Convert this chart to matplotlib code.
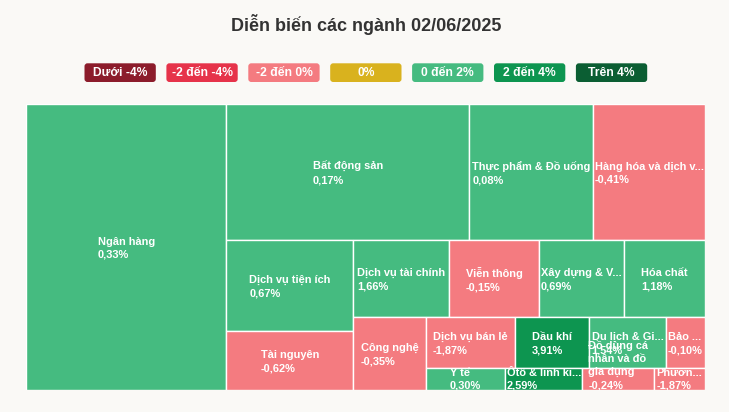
import math
import matplotlib
matplotlib.use("Agg")
import matplotlib.pyplot as plt
from matplotlib.patches import Rectangle, FancyBboxPatch

# ---------------- data ----------------
title = "Diễn biến các ngành 02/06/2025"

sectors = ["Ngân hàng", "Bất động sản", "Thực phẩm & Đồ uống",
           "Hàng hóa và dịch vụ công nghiệp", "Dịch vụ tiện ích", "Tài nguyên",
           "Dịch vụ tài chính", "Viễn thông", "Xây dựng & Vật liệu", "Hóa chất",
           "Công nghệ", "Dịch vụ bán lẻ", "Dầu khí", "Du lịch & Giải trí",
           "Bảo hiểm", "Y tế", "Ôtô & linh kiện",
           "Đồ dùng cá nhân và đồ gia dụng", "Phương tiện truyền thông"]

display_labels = ["Ngân hàng", "Bất động sản", "Thực phẩm & Đồ uống",
                  "Hàng hóa và dịch v...", "Dịch vụ tiện ích", "Tài nguyên",
                  "Dịch vụ tài chính", "Viễn thông", "Xây dựng & V...", "Hóa chất",
                  "Công nghệ", "Dịch vụ bán lẻ", "Dầu khí", "Du lịch & Gi...",
                  "Bảo ...", "Y tế", "Ôtô & linh ki...",
                  "Đồ dùng cá\nnhân và đồ\ngia dụng", "Phươn..."]

changes = [0.33, 0.17, 0.08, -0.41, 0.67, -0.62, 1.66, -0.15, 0.69, 1.18,
           -0.35, -1.87, 3.91, 1.54, -0.10, 0.30, 2.59, -0.24, -1.87]

weights = [5729, 3305, 1686, 1519, 1156, 749, 737, 700, 652, 629,
           526, 448, 373, 384, 197, 179, 173, 162, 114]

legend_labels = ["Dưới -4%", "-2 đến -4%", "-2 đến 0%", "0%",
                 "0 đến 2%", "2 đến 4%", "Trên 4%"]
legend_colors = ["#8c1c2b", "#e6334a", "#f47b80", "#d9b21e",
                 "#45bb80", "#0d9550", "#0b5e33"]

BG = "#faf9f6"


def color_for(v):
    if v < -4:
        return legend_colors[0]
    if v < -2:
        return legend_colors[1]
    if v < 0:
        return legend_colors[2]
    if v == 0:
        return legend_colors[3]
    if v < 2:
        return legend_colors[4]
    if v < 4:
        return legend_colors[5]
    return legend_colors[6]


# ------------- squarified (alternating direction) layout -------------
def _ratio(w, h):
    try:
        r = max(w / h, h / w)
    except (ZeroDivisionError, TypeError):
        return float("nan")
    return r


class _Group:
    def __init__(self, h, w, d):
        self.height, self.width, self.direction = h, w, d
        self.total = 0.0
        self.nW = self.lW = self.nH = self.lH = 0.0
        self.el = []
        self.lR = self.nR = float("nan")

    def add(self, a):
        last = self.el[-1] if self.el else float("nan")
        self.total += a
        if self.direction == 0:
            self.lW = self.nW
            lH = last / self.lW if self.lW else float("nan")
            self.lR = _ratio(self.lW, lH)
            self.nW = self.total / self.height
            nH = last / self.nW
            self.nR = _ratio(self.nW, nH)
        else:
            self.lH = self.nH
            lW = last / self.lH if self.lH else float("nan")
            self.lR = _ratio(lW, self.lH)
            self.nH = self.total / self.width
            nW = last / self.nH
            self.nR = _ratio(nW, self.nH)
        self.el.append(a)

    def reset(self):
        self.nW = self.lW = 0.0
        self.el = []
        self.total = 0.0


def treemap_layout(values, W, H):
    tot = float(sum(values))
    out = []
    plot = [0.0, 0.0]
    g = _Group(H, W, 0)

    def calc(last):
        if last:
            gW, gH = g.nW, g.nH
            keep = None
        else:
            gW, gH = g.lW, g.lH
            keep = g.el[-1]
        end = len(g.el) - 1
        for i, p in enumerate(g.el):
            if last or i < end:
                if g.direction == 0:
                    w = gW
                    h = p / w
                    out.append((plot[0], plot[1], w, h))
                    plot[1] += h
                else:
                    h = gH
                    w = p / h
                    out.append((plot[0], plot[1], w, h))
                    plot[0] += w
        g.reset()
        if g.direction == 0:
            g.width -= gW
        else:
            g.height -= gH
        plot[1] = H - g.height
        plot[0] = W - g.width
        g.direction = 1 - g.direction
        if not last:
            g.add(keep)

    n = len(values)
    for i, v in enumerate(values):
        g.add(W * H * v / tot)
        if g.nR > g.lR:
            calc(False)
        if i == n - 1:
            calc(True)
    return out


# ---------------- figure ----------------
FW, FH = 729, 412
fig = plt.figure(figsize=(FW / 100, FH / 100), dpi=100, facecolor=BG)

# overlay for title / legend (pixel units)
ov = fig.add_axes([0, 0, 1, 1])
ov.set_xlim(0, FW)
ov.set_ylim(FH, 0)
ov.axis("off")
ov.set_facecolor(BG)

ov.text(FW / 2 + 1.5, 24.5, title, ha="center", va="center", fontsize=13,
        fontweight="bold", color="#333333", family="Liberation Sans")

lx0, lw, lstep, ly0, lh = 84.5, 71.3, 81.9, 63.3, 18.7
for i, (lab, col) in enumerate(zip(legend_labels, legend_colors)):
    x = lx0 + i * lstep
    box = FancyBboxPatch((x, ly0), lw, lh,
                         boxstyle="round,pad=0,rounding_size=3",
                         facecolor=col, edgecolor="none")
    ov.add_patch(box)
    ov.text(x + lw / 2, ly0 + lh / 2 + 0.5, lab, ha="center", va="center",
            fontsize=8.7, fontweight="bold", color="white",
            family="Liberation Sans")

# treemap axes
px0, py0, PW, PH = 26, 104, 679, 286
ax = fig.add_axes([px0 / FW, (FH - py0 - PH) / FH, PW / FW, PH / FH])
ax.set_xlim(0, PW)
ax.set_ylim(PH, 0)
ax.axis("off")

rects = treemap_layout(weights, PW, PH)
line_px = 14.0
for (x, y, w, h), lab, v in zip(rects, display_labels, changes):
    ax.add_patch(Rectangle((x, y), w, h, facecolor=color_for(v),
                           edgecolor="white", linewidth=1.0))
    txt = lab + "\n" + ("%.2f%%" % v).replace(".", ",")
    nlines = txt.count("\n") + 1
    cx = x + w / 2
    cy = y + h / 2
    half = nlines * line_px / 2
    if cy + half > PH + 2:
        cy = PH + 2 - half
    ax.text(cx, cy + 1.3, txt, ha="center", va="center", multialignment="left",
            fontsize=7.9, fontweight="bold", color="white",
            family="Liberation Sans", linespacing=1.4, clip_on=False)

fig.savefig("out.png", dpi=100, facecolor=BG)
